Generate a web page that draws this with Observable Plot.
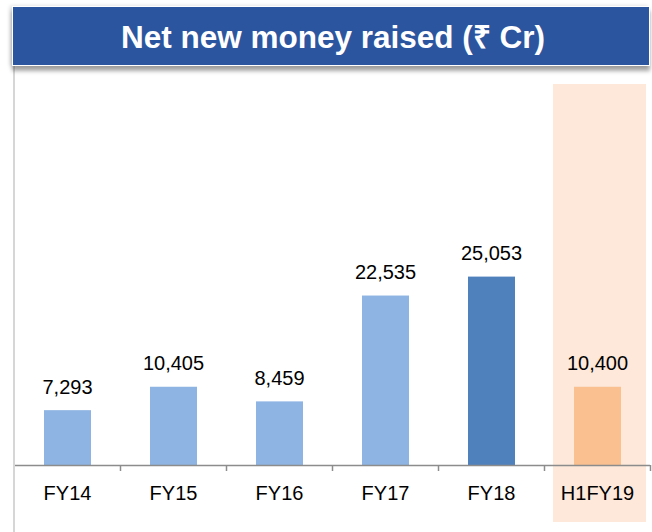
<!DOCTYPE html>
<html>
<head>
<meta charset="utf-8">
<script src="https://cdn.jsdelivr.net/npm/d3@7"></script>
<script src="https://cdn.jsdelivr.net/npm/@observablehq/plot@0.6"></script>
<style>
  html, body { margin: 0; padding: 0; background: #fff; }
  body { width: 652px; height: 532px; position: relative; overflow: hidden; font-family: "Liberation Sans", Arial, sans-serif; }
  #banner {
    position: absolute; left: 12px; top: 6px; width: 636px; height: 58px;
    background: #2C55A0; border: 1px solid #fff;
    box-shadow: 0 5px 4px rgba(0,0,0,0.35), -2px 0 4px rgba(0,0,0,0.15);
    color: #fff; font-weight: bold; font-size: 31.5px; line-height: 60px;
    text-align: center; box-sizing: content-box; z-index: 2;
  }
  #banner span { position: relative; left: 2px; }
  #leftline { position: absolute; left: 13px; top: 66px; width: 2px; height: 466px; background: #D6D6D6; z-index: 1; }
  #chart { position: absolute; left: 0; top: 70px; }
</style>
</head>
<body>
<div id="banner"><span>Net new money raised (₹ Cr)</span></div>
<div id="leftline"></div>
<div id="chart"></div>
<script>
const categories = ["FY14", "FY15", "FY16", "FY17", "FY18", "H1FY19"];
const values = [7293, 10405, 8459, 22535, 25053, 10400];
const barColors = ["#8EB4E3", "#8EB4E3", "#8EB4E3", "#8EB4E3", "#4F81BD", "#FAC090"];
const highlighted = ["H1FY19"];
const yMax = 50000;

const data = categories.map((c, i) => ({category: c, value: values[i], color: barColors[i]}));

const W = 652, H = 462, mL = 14, mR = 2, mT = 19, mB = 67;
const bw = (W - mL - mR) / categories.length;

const chart = Plot.plot({
  width: W,
  height: H,
  marginLeft: mL,
  marginRight: mR,
  marginTop: mT,
  marginBottom: mB,
  style: {fontFamily: "'Liberation Sans', Arial, sans-serif", background: "transparent", color: "#000"},
  x: {domain: categories, padding: 0, axis: null, label: null},
  y: {domain: [0, yMax], axis: null},
  marks: [
    Plot.barY(highlighted, {x: d => d, y1: 0, y2: yMax, fill: "#FDE8DA", insetLeft: 9, insetRight: 4, insetTop: -5, insetBottom: -57}),
    Plot.barY(data, {x: "category", y: "value", fill: "color", insetLeft: 30, insetRight: 29, ariaLabel: "values"}),
    Plot.ruleY([0], {stroke: "#8C8C8C", strokeWidth: 1.5}),
    Plot.ruleX(categories, {x: d => d, dx: bw / 2, y1: 0, y2: -800, stroke: "#8C8C8C", strokeWidth: 1.5}),
    Plot.text(data, {x: "category", y: "value", text: d => d3.format(",")(d.value), lineAnchor: "bottom", dy: -17, fontSize: 20, fill: "#000"}),
    Plot.axisX({tickSize: 0, tickPadding: 20, fontSize: 20, fill: "#000", label: null})
  ]
});
document.getElementById("chart").appendChild(chart);
d3.select(chart).selectAll('g[aria-label="values"] rect').style("filter", "drop-shadow(1px 1px 2px rgba(0,0,0,0.3))");
</script>
</body>
</html>
